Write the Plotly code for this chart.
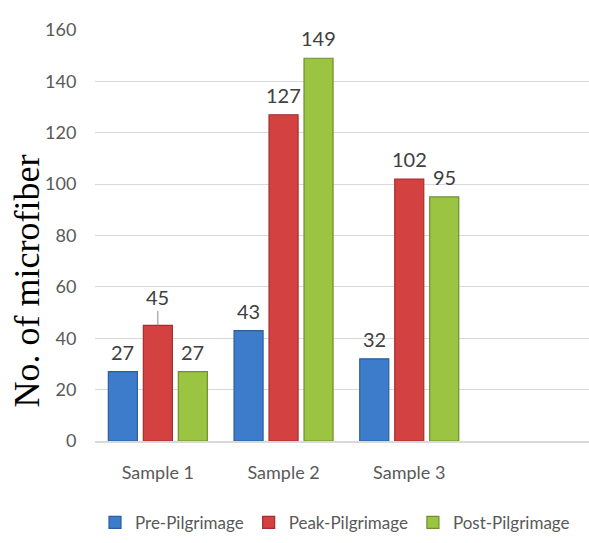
import plotly.graph_objects as go

# Microfiber counts per sample across pilgrimage phases
samples = ["Sample 1", "Sample 2", "Sample 3"]
pre_pilgrimage = [27, 43, 32]
peak_pilgrimage = [45, 127, 102]
post_pilgrimage = [27, 149, 95]
series_names = ["Pre-Pilgrimage", "Peak-Pilgrimage", "Post-Pilgrimage"]
y_ticks = [0, 20, 40, 60, 80, 100, 120, 140, 160]

fills = ["#3D7CCB", "#D44141", "#9BC443"]
edges = ["#2B5E9F", "#A22E2E", "#6F8F2C"]

BARGAP = 0.165
GROUPGAP = 0.17
LABEL_FONT = dict(family="Lato, sans-serif", size=20, color="#404040")

fig = go.Figure()
series_values = [pre_pilgrimage, peak_pilgrimage, post_pilgrimage]
positions = list(range(len(samples)))

for name, vals, fc, ec in zip(series_names, series_values, fills, edges):
    fig.add_trace(go.Bar(
        x=positions, y=vals, name=name,
        marker=dict(color=fc, line=dict(color=ec, width=1.2)),
    ))

# Value labels above each bar (the 45 label sits higher with a leader line)
slot = (1 - BARGAP) / len(series_values)
for k, vals in enumerate(series_values):
    offset = (k - (len(series_values) - 1) / 2) * slot
    for i, v in enumerate(vals):
        if k == 1 and i == 0:
            fig.add_annotation(
                x=positions[i] + offset, y=v, text=str(v),
                showarrow=True, arrowhead=0, arrowwidth=1, arrowcolor="#8c8c8c",
                ax=0, ay=-28, standoff=0, startstandoff=0,
                font=LABEL_FONT,
            )
        else:
            fig.add_annotation(
                x=positions[i] + offset, y=v, text=str(v),
                showarrow=False, yanchor="middle", yshift=20,
                font=LABEL_FONT,
            )

# Vertical axis title
fig.add_annotation(
    xref="paper", yref="paper", x=-0.138, y=0.39,
    text="No. of microfiber", textangle=-90, showarrow=False,
    xanchor="center", yanchor="middle",
    font=dict(family="Liberation Serif, Times New Roman, serif", size=36, color="#000000"),
)

fig.update_layout(
    width=589, height=543,
    margin=dict(l=95, r=0, t=30, b=102, autoexpand=False),
    paper_bgcolor="white", plot_bgcolor="white",
    barmode="group", bargap=BARGAP, bargroupgap=GROUPGAP,
    showlegend=True,
    legend=dict(
        orientation="h", xref="paper", x=0.0, xanchor="left",
        yref="container", y=0.037, yanchor="middle",
        font=dict(family="Lato, sans-serif", size=17, color="#595959"),
        itemwidth=30, tracegroupgap=0,
    ),
    xaxis=dict(
        range=[-0.5, 3.43], tickmode="array", tickvals=positions, ticktext=samples,
        showgrid=False, zeroline=False,
        showline=True, linecolor="#d9d9d9", linewidth=2,
        ticks="outside", ticklen=14, tickcolor="rgba(0,0,0,0)",
        tickfont=dict(family="Lato, sans-serif", size=18, color="#595959"),
    ),
    yaxis=dict(
        range=[0, 160], tickmode="array", tickvals=y_ticks,
        showgrid=True, gridcolor="#d9d9d9", gridwidth=1,
        zeroline=False, showline=False,
        ticks="outside", ticklen=14, tickcolor="rgba(0,0,0,0)",
        tickfont=dict(family="Lato, sans-serif", size=18, color="#595959"),
    ),
)

fig.write_html("out.html")
